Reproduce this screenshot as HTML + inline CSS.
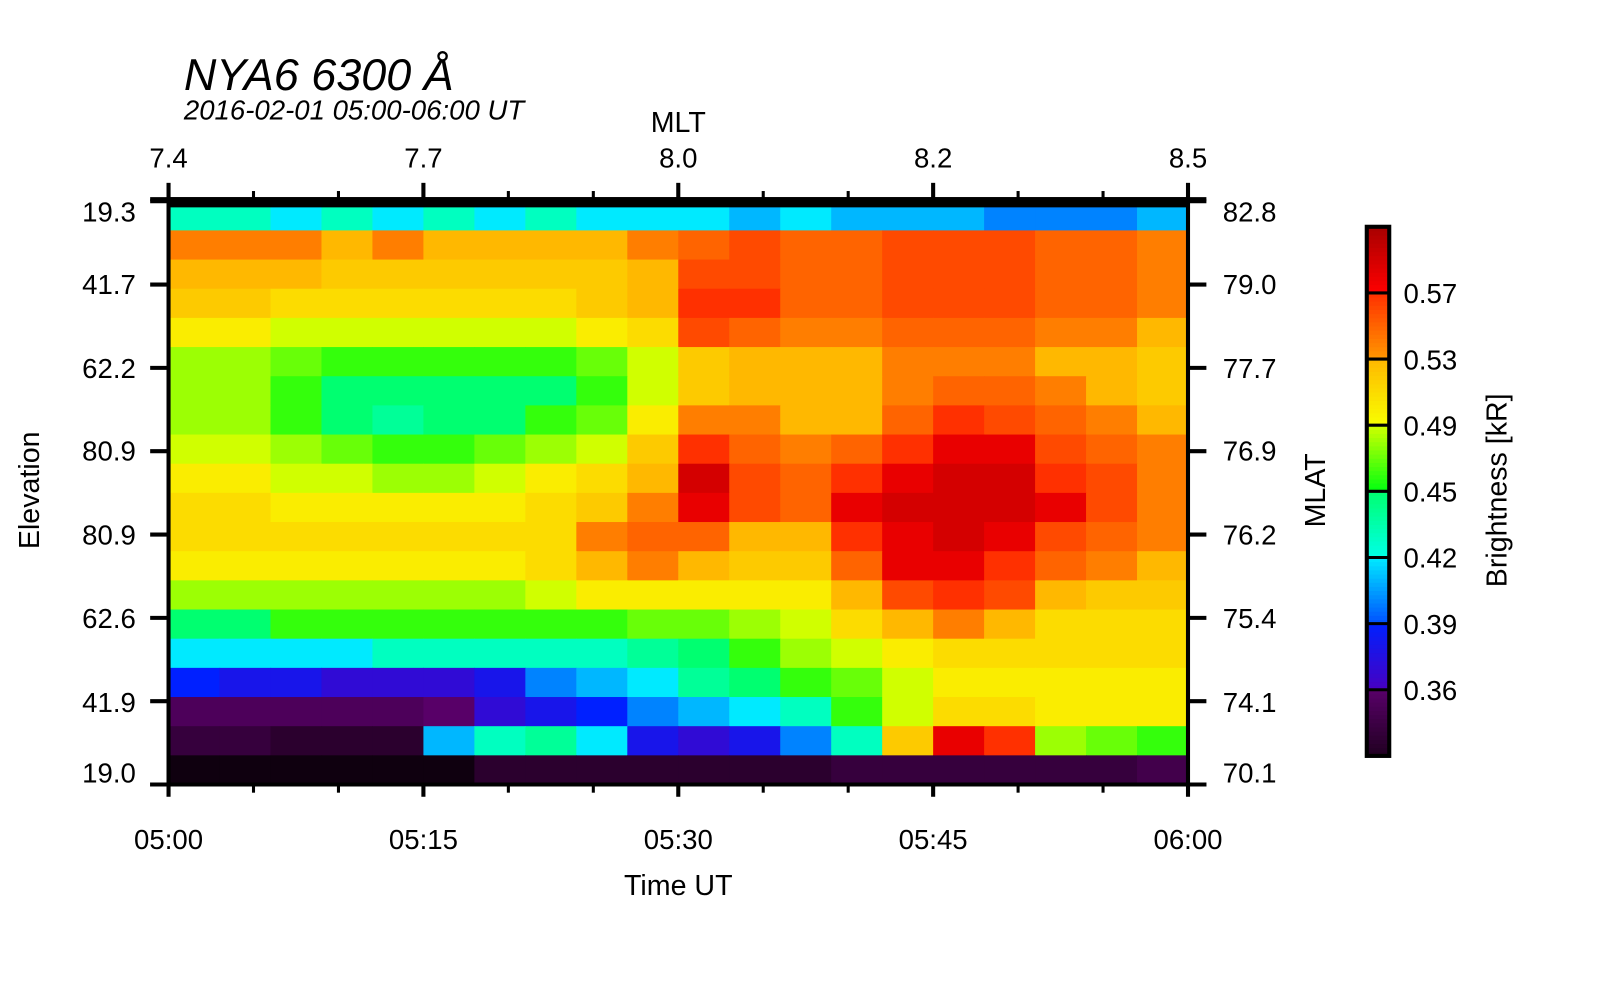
<!DOCTYPE html>
<html><head><meta charset="utf-8"><style>
html,body{margin:0;padding:0;background:#fff;}
svg{display:block;font-family:"Liberation Sans",sans-serif;}
</style></head><body>
<svg id="chart" width="1600" height="1000" viewBox="0 0 1600 1000">
<g transform="scale(1.0215)">
<text x="180" y="88" font-size="44" font-style="italic">NYA6 6300 Å</text>
<text x="180" y="117" font-size="27" font-style="italic">2016-02-01 05:00-06:00 UT</text>
<text x="664" y="129" font-size="28" text-anchor="middle">MLT</text>
<text x="664" y="876" font-size="28" text-anchor="middle">Time UT</text>
<text transform="translate(38,480) rotate(-90)" font-size="28" text-anchor="middle">Elevation</text>
<text transform="translate(1297,480) rotate(-90)" font-size="28" text-anchor="middle">MLAT</text>
<text transform="translate(1475,480) rotate(-90)" font-size="28" text-anchor="middle">Brightness [kR]</text>
<g id="cells"></g>
<g id="axes"></g>
<g id="cbar"></g>
</g>
</svg>
<script>
const timeLabels = ["05:00","05:15","05:30","05:45","06:00"];
const mltLabels = ["7.4","7.7","8.0","8.2","8.5"];
const elevLabels = ["19.3","41.7","62.2","80.9","80.9","62.6","41.9","19.0"];
const mlatLabels = ["82.8","79.0","77.7","76.9","76.2","75.4","74.1","70.1"];
const cbarLabels = ["0.57","0.53","0.49","0.45","0.42","0.39","0.36"];
const cbarEdges = [0.31,0.36,0.39,0.42,0.45,0.49,0.53,0.57,0.61];
// brightness [kR], rows top->bottom, columns 05:00->06:00 in 3-min bins
const brightness = [
[0.43,0.43,0.42,0.43,0.42,0.43,0.42,0.43,0.42,0.42,0.42,0.41,0.42,0.41,0.41,0.41,0.40,0.40,0.40,0.41],
[0.54,0.54,0.54,0.53,0.54,0.53,0.53,0.53,0.53,0.54,0.55,0.56,0.55,0.55,0.56,0.56,0.56,0.55,0.55,0.54],
[0.53,0.53,0.53,0.52,0.52,0.52,0.52,0.52,0.52,0.53,0.56,0.56,0.55,0.55,0.56,0.56,0.56,0.55,0.55,0.54],
[0.52,0.52,0.51,0.51,0.51,0.51,0.51,0.51,0.52,0.53,0.57,0.57,0.55,0.55,0.56,0.56,0.56,0.55,0.55,0.54],
[0.50,0.50,0.49,0.49,0.49,0.49,0.49,0.49,0.50,0.51,0.56,0.55,0.54,0.54,0.55,0.55,0.55,0.54,0.54,0.53],
[0.48,0.48,0.47,0.46,0.46,0.46,0.46,0.46,0.47,0.49,0.52,0.53,0.53,0.53,0.54,0.54,0.54,0.53,0.53,0.52],
[0.48,0.48,0.46,0.45,0.45,0.45,0.45,0.45,0.46,0.49,0.52,0.53,0.53,0.53,0.54,0.55,0.55,0.54,0.53,0.52],
[0.48,0.48,0.46,0.45,0.44,0.45,0.45,0.46,0.47,0.50,0.54,0.54,0.53,0.53,0.55,0.57,0.56,0.55,0.54,0.53],
[0.49,0.49,0.48,0.47,0.46,0.46,0.47,0.48,0.49,0.52,0.57,0.55,0.54,0.55,0.57,0.58,0.58,0.56,0.55,0.54],
[0.50,0.50,0.49,0.49,0.48,0.48,0.49,0.50,0.51,0.53,0.59,0.56,0.55,0.57,0.58,0.59,0.59,0.57,0.56,0.54],
[0.51,0.51,0.50,0.50,0.50,0.50,0.50,0.51,0.52,0.54,0.58,0.56,0.55,0.58,0.59,0.59,0.59,0.58,0.56,0.54],
[0.51,0.51,0.51,0.51,0.51,0.51,0.51,0.51,0.54,0.55,0.55,0.53,0.53,0.57,0.58,0.59,0.58,0.56,0.55,0.54],
[0.50,0.50,0.50,0.50,0.50,0.50,0.50,0.51,0.53,0.54,0.53,0.52,0.52,0.55,0.58,0.58,0.57,0.55,0.54,0.53],
[0.48,0.48,0.48,0.48,0.48,0.48,0.48,0.49,0.50,0.50,0.50,0.50,0.50,0.53,0.56,0.57,0.56,0.53,0.52,0.52],
[0.45,0.45,0.46,0.46,0.46,0.46,0.46,0.46,0.46,0.47,0.47,0.48,0.49,0.51,0.53,0.54,0.53,0.51,0.51,0.51],
[0.42,0.42,0.42,0.42,0.43,0.43,0.43,0.43,0.43,0.44,0.45,0.46,0.48,0.49,0.50,0.51,0.51,0.51,0.51,0.51],
[0.39,0.38,0.38,0.37,0.37,0.37,0.38,0.40,0.41,0.42,0.44,0.45,0.46,0.47,0.49,0.50,0.50,0.50,0.50,0.50],
[0.35,0.35,0.35,0.35,0.35,0.36,0.37,0.38,0.39,0.40,0.41,0.42,0.43,0.46,0.49,0.51,0.51,0.50,0.50,0.50],
[0.33,0.33,0.32,0.32,0.32,0.41,0.43,0.44,0.42,0.38,0.37,0.38,0.40,0.43,0.52,0.58,0.57,0.48,0.47,0.46],
[0.31,0.31,0.31,0.31,0.31,0.31,0.32,0.32,0.32,0.32,0.32,0.32,0.32,0.33,0.33,0.33,0.33,0.33,0.33,0.34]
];

const NS="http://www.w3.org/2000/svg";
const X0=165,X1=1163,Y0=197,Y1=768;
const binCols=[["#200020","#580068"],["#4800c0","#0020ff"],["#0050ff","#00eaff"],["#00ffe8","#00ff70"],
["#00ff10","#d0ff00"],["#f8ff00","#ffb800"],["#ff9800","#ff3000"],["#ff0000","#a80000"]];
function hx(h){return [1,3,5].map(i=>parseInt(h.substr(i,2),16));}
function color(v){
  if(v<=cbarEdges[0]) return "rgb(15,0,15)";
  for(let i=0;i<8;i++){
    if(v<=cbarEdges[i+1]||i===7){
      let t=Math.min(1,(v-cbarEdges[i])/(cbarEdges[i+1]-cbarEdges[i]));
      const a=hx(binCols[i][0]),b=hx(binCols[i][1]);
      return "rgb("+a.map((c,k)=>Math.round(c+(b[k]-c)*t)).join(",")+")";
    }
  }
}
const nR=brightness.length,nC=brightness[0].length;
const xs=c=>X0+(X1-X0)*c/nC, ys=r=>Y0+(Y1-Y0)*r/nR;
function el(tag,attrs,parent){const e=document.createElementNS(NS,tag);for(const k in attrs)e.setAttribute(k,attrs[k]);parent.appendChild(e);return e;}
const cells=document.getElementById("cells");
brightness.forEach((row,r)=>row.forEach((v,c)=>{
  const e=el("rect",{x:xs(c),y:ys(r),width:xs(c+1)-xs(c)+0.6,height:ys(r+1)-ys(r)+0.6,fill:color(v)},cells);
  
  
}));
const ax=document.getElementById("axes");
const tb=el("rect",{x:X0,y:193,width:X1-X0,height:10,fill:"#000"},ax);


el("line",{x1:X0,y1:Y0-3,x2:X0,y2:Y1,stroke:"#000","stroke-width":4},ax);
el("line",{x1:X1,y1:Y0-3,x2:X1,y2:Y1,stroke:"#000","stroke-width":4},ax);
el("line",{x1:X0-18,y1:Y1,x2:X1+18,y2:Y1,stroke:"#000","stroke-width":4},ax);
el("line",{x1:X0-18,y1:195,x2:X1+18,y2:195,stroke:"#000","stroke-width":4},ax);
for(let i=0;i<=12;i++){
  const x=X0+(X1-X0)*i/12, major=i%3===0;
  el("line",{x1:x,y1:Y1,x2:x,y2:Y1+(major?12:8),stroke:"#000","stroke-width":major?4:3},ax);
  el("line",{x1:x,y1:195,x2:x,y2:195-(major?16:8),stroke:"#000","stroke-width":major?4:3},ax);
}
timeLabels.forEach((t,i)=>{const e=el("text",{x:X0+(X1-X0)*i/(timeLabels.length-1),y:831,"font-size":27,"text-anchor":"middle"},ax);e.textContent=t;
 
 });
mltLabels.forEach((t,i)=>{const e=el("text",{x:X0+(X1-X0)*i/(mltLabels.length-1),y:164,"font-size":27,"text-anchor":"middle"},ax);e.textContent=t;
 
 });
const ly=[208,279,361,442,524,606,688,757];
elevLabels.forEach((t,i)=>{
  const y=Y0+(Y1-Y0)*i/(elevLabels.length-1);
  el("line",{x1:X0-18,y1:y,x2:X0,y2:y,stroke:"#000","stroke-width":4},ax);
  el("line",{x1:X1,y1:y,x2:X1+18,y2:y,stroke:"#000","stroke-width":4},ax);
  const e=el("text",{x:133,y:ly[i]+9,"font-size":27,"text-anchor":"end"},ax);e.textContent=t;
  
  
  const m=el("text",{x:1197,y:ly[i]+9,"font-size":27},ax);m.textContent=mlatLabels[i];
  
  
});
const cb=document.getElementById("cbar");
const CX=1338,CW=22,CT=222,CB=740;
const binH=(CB-CT)/8;
for(let k=0;k<8;k++){
  for(let s=0;s<16;s++){
    const v=cbarEdges[k]+(cbarEdges[k+1]-cbarEdges[k])*(s+0.5)/16;
    const y=CB-binH*(k+(s+1)/16);
    el("rect",{x:CX,y:y,width:CW,height:binH/16+0.5,fill:color(v)},cb);
  }
}
el("rect",{x:CX,y:CT,width:CW,height:CB-CT,fill:"none",stroke:"#000","stroke-width":4},cb);
cbarLabels.forEach((t,i)=>{
  const y=CT+binH*(i+1);
  el("line",{x1:CX,y1:y,x2:CX+CW,y2:y,stroke:"#000","stroke-width":3},cb);
  const e=el("text",{x:1374,y:y+10,"font-size":27},cb);e.textContent=t;
  
  
});
</script>
</body></html>
